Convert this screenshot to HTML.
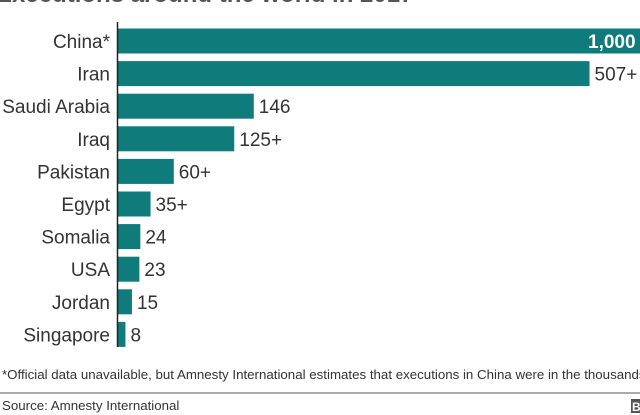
<!DOCTYPE html>
<html><head><meta charset="utf-8"><style>
html,body{margin:0;padding:0;background:#fff;width:640px;height:415px;overflow:hidden;font-family:"Liberation Sans",Arial,sans-serif}
</style></head><body>
<svg id="chart" width="640" height="415" xmlns="http://www.w3.org/2000/svg">
<text x="-4" y="2" font-size="24" font-weight="bold" fill="#555">Executions around the world in 2017</text>
<g id="bars"></g>
<line x1="117.5" y1="22" x2="117.5" y2="347" stroke="#222" stroke-width="1.5"/>
<text x="2" y="379" font-size="13.3" fill="#333">*Official data unavailable, but Amnesty International estimates that executions in China were in the thousands</text>
<line x1="0" y1="393" x2="640" y2="393" stroke="#aaa" stroke-width="2"/>
<text x="2" y="410" font-size="13.3" fill="#333">Source: Amnesty International</text>
<rect x="631" y="399" width="12" height="14" fill="#555"/>
<text x="632" y="411" font-size="12" font-weight="bold" fill="#fff">B</text>
</svg>
<script>
const categories=["China*","Iran","Saudi Arabia","Iraq","Pakistan","Egypt","Somalia","USA","Jordan","Singapore"];
const values=[1000,507,146,125,60,35,24,23,15,8];
const valueLabels=["1,000","507+","146","125+","60+","35+","24","23","15","8"];
const NS="http://www.w3.org/2000/svg";
const x0=118, scale=0.93, top0=41, pitch=32.6, bh=25;
const xs=v=>x0+v*scale;
const ys=i=>top0+i*pitch;
const g=document.getElementById('bars');
categories.forEach((c,i)=>{
  const cy=ys(i);
  const r=document.createElementNS(NS,'rect');
  r.setAttribute('x',x0);r.setAttribute('y',cy-bh/2);
  r.setAttribute('width',xs(values[i])-x0);r.setAttribute('height',bh);
  r.setAttribute('fill','#0f7b7a');
  
  
  g.appendChild(r);
  const t=document.createElementNS(NS,'text');
  t.setAttribute('x',110);t.setAttribute('y',cy+7);
  t.setAttribute('text-anchor','end');t.setAttribute('font-size','19');t.setAttribute('fill','#333');
  t.textContent=c;
  
  
  g.appendChild(t);
  const v=document.createElementNS(NS,'text');
  const ex=xs(values[i]);
  if(ex>620){v.setAttribute('x',588);v.setAttribute('fill','#fff');v.setAttribute('font-weight','bold');}
  else{v.setAttribute('x',ex+5);v.setAttribute('fill','#333');}
  v.setAttribute('y',cy+7);v.setAttribute('font-size','19');
  v.textContent=valueLabels[i];
  
  
  g.appendChild(v);
});
</script>
</body></html>
